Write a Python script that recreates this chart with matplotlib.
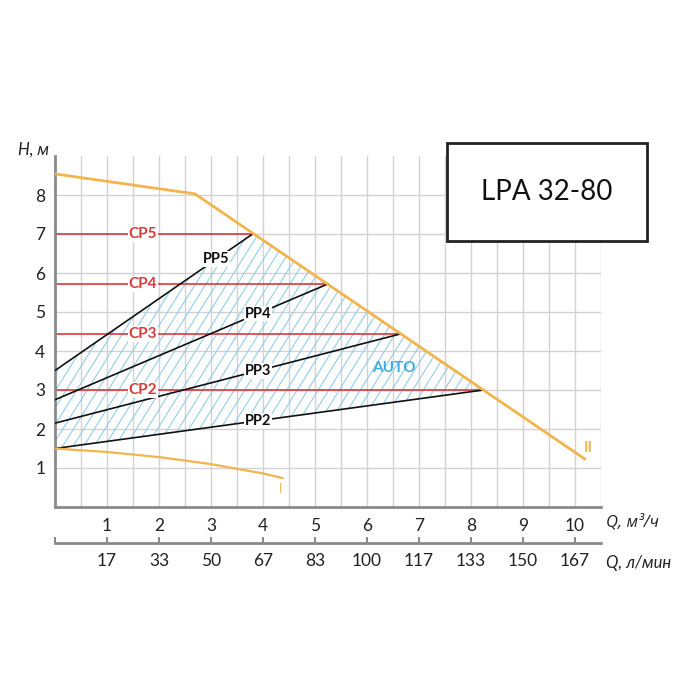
import numpy as np
import matplotlib
matplotlib.use("Agg")
import matplotlib.pyplot as plt
from matplotlib.patches import Polygon, Rectangle
from matplotlib.collections import LineCollection

plt.rcParams['font.family'] = ['Lato', 'DejaVu Sans']

# ---- data ----
q_ticks = [1, 2, 3, 4, 5, 6, 7, 8, 9, 10]
lmin_labels = ['17', '33', '50', '67', '83', '100', '117', '133', '150', '167']
h_ticks = [1, 2, 3, 4, 5, 6, 7, 8]

max_q = [0.0, 2.69, 10.19]
max_h = [8.54, 8.03, 1.23]

min_q = [0.0, 1.0, 2.0, 3.0, 4.0, 4.38]
min_h = [1.50, 1.41, 1.28, 1.10, 0.86, 0.74]

cp_names = ['CP2', 'CP3', 'CP4', 'CP5']
cp_h = [3.0, 4.44, 5.72, 7.0]
cp_end_q = [8.24, 6.65, 5.25, 3.8]

pp_names = ['PP2', 'PP3', 'PP4', 'PP5']
pp_start_h = [1.5, 2.15, 2.75, 3.5]
pp_label_q = [3.9, 3.9, 3.9, 3.1]

title = 'LPA 32-80'

# ---- figure ----
W, H = 700, 700
fig = plt.figure(figsize=(7, 7), dpi=100)
ax_l, ax_r, ax_b, ax_t = 55, 601, 507, 156
ax = fig.add_axes([ax_l / W, 1 - ax_b / H, (ax_r - ax_l) / W, (ax_b - ax_t) / H])
ax.set_xlim(0, 10.5)
ax.set_ylim(0, 9)

orange = '#f2b44c'
red = '#d8393b'
blue = '#93cde8'
grid = '#d2d2d2'
spine = '#8a8a8a'

# grid
ax.set_xticks(q_ticks)
ax.set_xticks(np.arange(0.5, 10.6, 1.0), minor=True)
ax.set_yticks(h_ticks)
ax.grid(True, which='major', color=grid, lw=1.0, zorder=0)
ax.grid(True, which='minor', axis='x', color=grid, lw=1.0, zorder=0)
ax.set_axisbelow(True)
ax.tick_params(which='both', length=0)
ax.tick_params(axis='x', pad=8, labelsize=12.5, labelcolor='#222')
ax.tick_params(axis='y', pad=7, labelsize=12.5, labelcolor='#222')
for s in ['top', 'right']:
    ax.spines[s].set_visible(False)
for s in ['left', 'bottom']:
    ax.spines[s].set_color(spine)
    ax.spines[s].set_linewidth(2)

# hatch region (AUTO)
poly_pts = [(0, pp_start_h[0]), (cp_end_q[0], cp_h[0]), (cp_end_q[-1], cp_h[-1]), (0, pp_start_h[-1])]
patch = Polygon(poly_pts, closed=True, fc='none', ec='none')
ax.add_patch(patch)
px_x = (ax_r - ax_l) / 10.5
px_y = (ax_b - ax_t) / 9.0
slope = np.tan(np.radians(58)) * px_x / px_y
spacing = 10.5 / px_x
segs = []
for c in np.arange(-9 / slope, 10.5, spacing):
    segs.append([(c, 0), (c + 9 / slope, 9)])
lc = LineCollection(segs, colors=blue, linewidths=0.8, zorder=1)
ax.add_collection(lc)
lc.set_clip_path(patch)

# CP lines
for name, h, qe in zip(cp_names, cp_h, cp_end_q):
    ax.plot([0, qe], [h, h], color=red, lw=1.2, zorder=2)
    ax.text(1.69, h, name, color=red, fontsize=11, fontweight='bold', ha='center', va='center',
            zorder=5, bbox=dict(fc='white', ec='none', pad=0.6))

# PP lines
for name, h0, qe, he, lq in zip(pp_names, pp_start_h, cp_end_q, cp_h, pp_label_q):
    ax.plot([0, qe], [h0, he], color='#111', lw=1.2, zorder=3)
    ly = h0 + (he - h0) * lq / qe
    ax.text(lq, ly, name, color='#111', fontsize=10.5, fontweight='bold', ha='center', va='center',
            zorder=5, bbox=dict(fc='white', ec='none', pad=0.5))

# max / min curves
ax.plot(max_q, max_h, color=orange, lw=2.0, zorder=4, solid_capstyle='round')
ax.plot(min_q, min_h, color=orange, lw=1.6, zorder=4, solid_capstyle='round')
ax.text(10.25, 1.52, 'II', color=orange, fontsize=11, fontweight='bold', ha='center', va='center', zorder=5)
ax.text(4.33, 0.46, 'I', color=orange, fontsize=9, ha='center', va='center', zorder=5)
ax.text(6.52, 3.56, 'AUTO', color='#3aaedc', fontsize=11, fontweight='bold', ha='center', va='center', zorder=5)

# second axis (l/min)
sec = ax.secondary_xaxis(-(543 - ax_b) / (ax_b - ax_t))
sec.set_xticks([0] + q_ticks, labels=[''] + lmin_labels)
sec.tick_params(direction='in', length=4, width=1.5, color=spine, pad=7, labelsize=12.5, labelcolor='#222')
sec.spines['bottom'].set_color(spine)
sec.spines['bottom'].set_linewidth(2)

# axis labels
fig.text(606 / W, 1 - 522 / H, 'Q, м³/ч', style='italic', fontsize=12, color='#222', ha='left', va='center',
         family=['Open Sans', 'DejaVu Sans'])
fig.text(606 / W, 1 - 563 / H, 'Q, л/мин', style='italic', fontsize=12, color='#222', ha='left', va='center')
fig.text(34 / W, 1 - 150 / H, 'H, м', style='italic', fontsize=12, color='#222', ha='center', va='center')

# title box
rect = Rectangle((447 / W, 1 - 241 / H), 200 / W, 98 / H, transform=fig.transFigure,
                 fc='white', ec='#222', lw=2, zorder=10, clip_on=False)
ax.add_patch(rect)
ax.text(547 / W, 1 - 192 / H, title, transform=fig.transFigure, fontsize=20, color='#111',
        ha='center', va='center', zorder=11, clip_on=False)

fig.savefig('out.png', dpi=100, facecolor='white')
